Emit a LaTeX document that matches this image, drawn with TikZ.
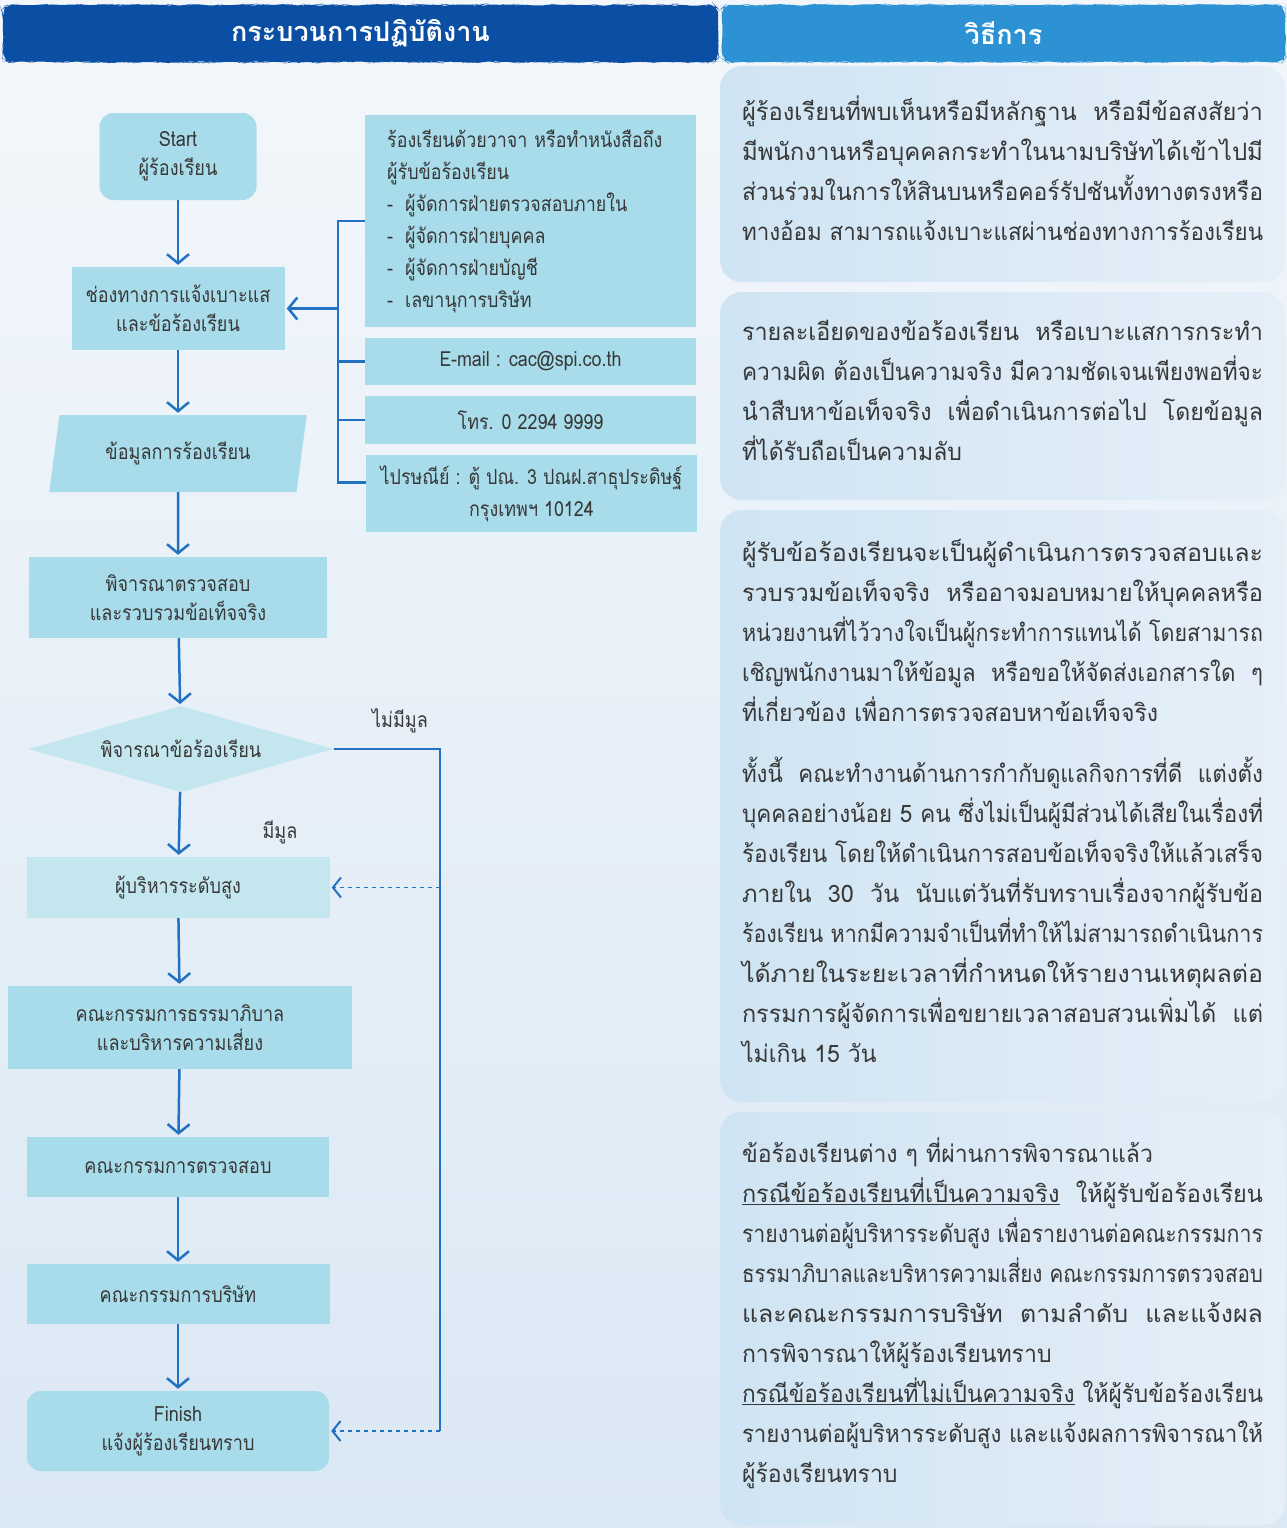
\documentclass[tikz,border=0pt]{standalone}
\usepackage{graphicx}
\usepackage{fontspec}
\setmainfont[Script=Thai]{Loma}
\newfontfamily\panelfont[Script=Thai, FakeStretch=0.96]{Loma}
\newfontfamily\flowfont[Script=Thai, FakeStretch=0.86]{Loma}
\usetikzlibrary{shapes.geometric,arrows.meta,decorations.pathmorphing}

\definecolor{hdrdark}{HTML}{0A4FA3}
\definecolor{hdrlight}{HTML}{2C92D3}
\definecolor{boxcyan}{HTML}{A8DCEA}
\definecolor{boxpale}{HTML}{C4E7EF}
\definecolor{linkblue}{HTML}{2271C3}
\definecolor{inktext}{HTML}{383838}
\definecolor{panelblue}{HTML}{CFE4F3}
\definecolor{panelpale}{HTML}{E6EFF8}
\definecolor{bgtop}{HTML}{F3F7FB}
\definecolor{bgbottom}{HTML}{DAE8F4}

\newcommand\jline[1]{\hbox to \linewidth{\resizebox{\linewidth}{\height}{#1}}}
\newcommand\lline[1]{\hbox to \linewidth{#1\hfil}}
\newcommand\panelend{\par\vskip 11pt\nointerlineskip\hbox{}}

\tikzset{
  flowbox/.style={fill=boxcyan, text=inktext, font=\flowfont\fontsize{21}{29}\selectfont, align=center, inner sep=0pt},
  infobox/.style={fill=boxcyan, text=inktext, font=\flowfont\fontsize{20.8}{32}\selectfont, inner sep=0pt},
  panel/.style={rounded corners=22, left color=panelblue, right color=panelpale, text=inktext, text width=521, inner xsep=22, inner ysep=0, minimum width=565, font=\panelfont\fontsize{24}{40}\selectfont, align=left},
  header/.style={text=white, font=\bfseries\fontsize{27}{30}\selectfont, rounded corners=8, decorate, decoration={random steps, segment length=5pt, amplitude=0.8pt}},
  flowarrow/.style={draw=linkblue, line width=2.5pt, -{Straight Barb[length=9pt,width=22pt]}, shorten >=2pt},
  dasharrow/.style={draw=linkblue, line width=1.3pt, dash pattern=on 4pt off 4pt, -{Straight Barb[length=8pt,width=20pt,line width=2pt]}, shorten >=2pt},
  bracket/.style={draw=linkblue, line width=2.5pt},
  flowlabel/.style={text=inktext, font=\flowfont\fontsize{21}{24}\selectfont}
}

\begin{document}
\begin{tikzpicture}[x=1pt,y=-1pt]
\useasboundingbox (0,0) rectangle (1287,1528);
\fill[top color=bgtop, bottom color=bgbottom] (0,0) rectangle (1287,1528);

\node[header, fill=hdrdark, minimum width=715, minimum height=57] (lefthead) at (360.5,33.5) {กระบวนการปฏิบัติงาน};
\node[header, fill=hdrlight, minimum width=563, minimum height=57] (righthead) at (1003.5,33.5) {วิธีการ};

\node[flowbox, rounded corners=14, minimum width=157, minimum height=87] (start) at (178,156.5) {Start\\ผู้ร้องเรียน};
\node[flowbox, minimum width=213, minimum height=83] (chan) at (178,308.5) {ช่องทางการแจ้งเบาะแส\\และข้อร้องเรียน};
\node[flowbox, trapezium, trapezium left angle=75, trapezium right angle=105, trapezium stretches, minimum width=258, minimum height=77] (data) at (178,453.5) {ข้อมูลการร้องเรียน};
\node[flowbox, minimum width=298, minimum height=81] (check) at (178,597.5) {พิจารณาตรวจสอบ\\และรวบรวมข้อเท็จจริง};
\node[flowbox, diamond, fill=boxpale, aspect=3.5, minimum width=305, minimum height=86] (decide) at (181,749) {พิจารณาข้อร้องเรียน};
\node[flowbox, fill=boxpale, minimum width=303, minimum height=61] (exec) at (178,887.5) {ผู้บริหารระดับสูง};
\node[flowbox, minimum width=344, minimum height=83] (gov) at (180,1027.5) {คณะกรรมการธรรมาภิบาล\\และบริหารความเสี่ยง};
\node[flowbox, minimum width=302, minimum height=60] (audit) at (178,1167) {คณะกรรมการตรวจสอบ};
\node[flowbox, minimum width=303, minimum height=60] (board) at (178,1294) {คณะกรรมการบริษัท};
\node[flowbox, rounded corners=14, minimum width=302, minimum height=80] (finish) at (178,1431) {Finish\\แจ้งผู้ร้องเรียนทราบ};

\foreach \a/\b in {start/chan, chan/data, data/check, check/decide, decide/exec, exec/gov, gov/audit, audit/board, board/finish} { \draw[flowarrow] (\a) -- (\b); }

\node[infobox, anchor=north west, text width=287, inner xsep=22, minimum height=212, align=left] (talk) at (365,115) {ร้องเรียนด้วยวาจา หรือทำหนังสือถึง\\ผู้รับข้อร้องเรียน\\-\hspace{12pt}ผู้จัดการฝ่ายตรวจสอบภายใน\\-\hspace{12pt}ผู้จัดการฝ่ายบุคคล\\-\hspace{12pt}ผู้จัดการฝ่ายบัญชี\\-\hspace{12pt}เลขานุการบริษัท};
\node[infobox, minimum width=331, minimum height=47] (mail) at (530.5,361.5) {E-mail : cac@spi.co.th};
\node[infobox, minimum width=331, minimum height=48] (phone) at (530.5,420) {โทร. 0 2294 9999};
\node[infobox, minimum width=331, minimum height=77, align=center] (post) at (531.5,493.5) {ไปรษณีย์ : ตู้ ปณ. 3 ปณฝ.สาธุประดิษฐ์\\กรุงเทพฯ 10124};

\coordinate (spine) at (338,308.5);
\draw[bracket] (talk.west) -- (talk.west -| spine) -- ([yshift=11pt]post.west -| spine) -- ([yshift=11pt]post.west);
\draw[bracket] (mail.west) -- (mail.west -| spine); \draw[bracket] (phone.west) -- (phone.west -| spine);
\draw[flowarrow] (spine) -- (chan.east);

\coordinate (nofault) at (440,749); \coordinate (nfdown) at (440,1431);
\draw[bracket] (decide.east) -- (nofault) -- (nfdown);
\draw[dasharrow] (exec.east -| nofault) -- (exec.east);
\draw[dasharrow] (nfdown) -- (finish.east);
\node[flowlabel] (nolabel) at (400,721) {ไม่มีมูล};
\node[flowlabel] (yeslabel) at (280,832) {มีมูล};

\node[panel, minimum height=216] (ways1) at (1002.5,174) {
\jline{ผู้ร้องเรียนที่พบเห็นหรือมีหลักฐาน \ หรือมีข้อสงสัยว่า}
\jline{มีพนักงานหรือบุคคลกระทำในนามบริษัทได้เข้าไปมี}
\jline{ส่วนร่วมในการให้สินบนหรือคอร์รัปชันทั้งทางตรงหรือ}
\jline{ทางอ้อม สามารถแจ้งเบาะแสผ่านช่องทางการร้องเรียน}
\panelend};
\node[panel, minimum height=208] (ways2) at (1002.5,396) {
\jline{รายละเอียดของข้อร้องเรียน \ หรือเบาะแสการกระทำ}
\jline{ความผิด ต้องเป็นความจริง มีความชัดเจนเพียงพอที่จะ}
\jline{นำสืบหาข้อเท็จจริง \ เพื่อดำเนินการต่อไป \ โดยข้อมูล}
\lline{ที่ได้รับถือเป็นความลับ}
\panelend};
\node[panel, minimum height=592] (ways3) at (1002.5,806) {
\jline{ผู้รับข้อร้องเรียนจะเป็นผู้ดำเนินการตรวจสอบและ}
\jline{รวบรวมข้อเท็จจริง \ หรืออาจมอบหมายให้บุคคลหรือ}
\jline{หน่วยงานที่ไว้วางใจเป็นผู้กระทำการแทนได้ โดยสามารถ}
\jline{เชิญพนักงานมาให้ข้อมูล \ หรือขอให้จัดส่งเอกสารใด \ ๆ}
\lline{ที่เกี่ยวข้อง เพื่อการตรวจสอบหาข้อเท็จจริง}
\vskip 21pt
\jline{ทั้งนี้ \ คณะทำงานด้านการกำกับดูแลกิจการที่ดี \ แต่งตั้ง}
\jline{บุคคลอย่างน้อย 5 คน ซึ่งไม่เป็นผู้มีส่วนได้เสียในเรื่องที่}
\jline{ร้องเรียน โดยให้ดำเนินการสอบข้อเท็จจริงให้แล้วเสร็จ}
\jline{ภายใน \ 30 \ วัน \ นับแต่วันที่รับทราบเรื่องจากผู้รับข้อ}
\jline{ร้องเรียน หากมีความจำเป็นที่ทำให้ไม่สามารถดำเนินการ}
\jline{ได้ภายในระยะเวลาที่กำหนดให้รายงานเหตุผลต่อ}
\jline{กรรมการผู้จัดการเพื่อขยายเวลาสอบสวนเพิ่มได้ \ แต่}
\lline{ไม่เกิน 15 วัน}
\panelend};
\node[panel, minimum height=413] (ways4) at (1002.5,1318.5) {
\lline{ข้อร้องเรียนต่าง ๆ ที่ผ่านการพิจารณาแล้ว}
\jline{\underline{กรณีข้อร้องเรียนที่เป็นความจริง} \ ให้ผู้รับข้อร้องเรียน}
\jline{รายงานต่อผู้บริหารระดับสูง เพื่อรายงานต่อคณะกรรมการ}
\jline{ธรรมาภิบาลและบริหารความเสี่ยง คณะกรรมการตรวจสอบ}
\jline{และคณะกรรมการบริษัท \ ตามลำดับ \ และแจ้งผล}
\lline{การพิจารณาให้ผู้ร้องเรียนทราบ}
\jline{\underline{กรณีข้อร้องเรียนที่ไม่เป็นความจริง} ให้ผู้รับข้อร้องเรียน}
\jline{รายงานต่อผู้บริหารระดับสูง และแจ้งผลการพิจารณาให้}
\lline{ผู้ร้องเรียนทราบ}
\panelend};
\end{tikzpicture}
\end{document}
